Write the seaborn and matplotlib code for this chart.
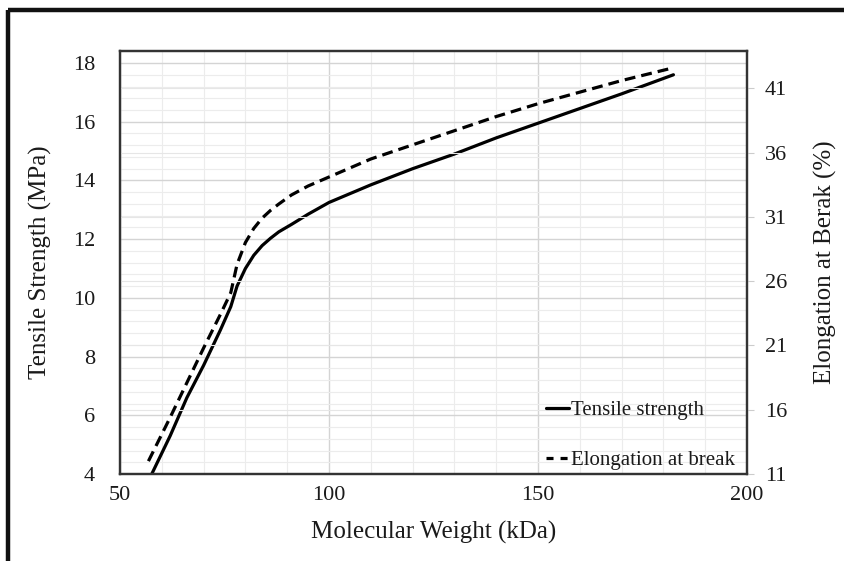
import numpy as np
import pandas as pd
import seaborn as sns
import matplotlib
matplotlib.use("Agg")
import matplotlib.pyplot as plt
from matplotlib.lines import Line2D
from matplotlib.ticker import MultipleLocator

# ---- data ----
mw_ts = [57.6, 62, 66, 70, 74, 76.5, 78, 80, 82, 84, 86, 88, 91, 95, 100, 110, 120, 130, 140, 150, 160, 170, 182.4]
tensile = [4.0, 5.3, 6.6, 7.7, 8.9, 9.7, 10.4, 11.0, 11.45, 11.78, 12.03, 12.25, 12.5, 12.85, 13.25, 13.85, 14.4, 14.9, 15.45, 15.95, 16.45, 16.95, 17.6]

mw_el = [56.8, 62, 66, 70, 74, 76.5, 78, 80, 82, 84, 86, 88, 91, 95, 100, 110, 120, 130, 140, 150, 160, 170, 181.2]
elongation = [12.0, 15.4, 18.1, 20.8, 23.4, 25.1, 27.3, 29.0, 30.1, 30.9, 31.5, 32.0, 32.7, 33.4, 34.1, 35.5, 36.6, 37.7, 38.8, 39.8, 40.7, 41.6, 42.5]

x_ticks = [50, 100, 150, 200]
left_ticks = [4, 6, 8, 10, 12, 14, 16, 18]
right_ticks = [11, 16, 21, 26, 31, 36, 41]

x_label = "Molecular Weight (kDa)"
left_label = "Tensile Strength (MPa)"
right_label = "Elongation at Berak (%)"
series_names = ["Tensile strength", "Elongation at break"]

df_ts = pd.DataFrame({"mw": mw_ts, "val": tensile})
df_el = pd.DataFrame({"mw": mw_el, "val": elongation})

sns.set_style("white")
plt.rcParams["font.family"] = ["Liberation Serif", "DejaVu Serif"]

fig = plt.figure(figsize=(8.44, 5.61), dpi=100)
ax = fig.add_axes([120/844, 1-474/561, (747-120)/844, (474-51)/561])
ax2 = ax.twinx()

dash = (0, (3.4, 1.9))
sns.lineplot(data=df_ts, x="mw", y="val", ax=ax, color="black", lw=2.3,
             label=series_names[0], legend=False)
sns.lineplot(data=df_el, x="mw", y="val", ax=ax2, color="black", lw=2.3,
             linestyle=dash, label=series_names[1], legend=False)

ax.set_xlim(50, 200)
ax.set_ylim(4, 18.41)
ax2.set_ylim(11, 43.9)

ax.set_xticks(x_ticks)
ax.set_yticks(left_ticks)
ax2.set_yticks(right_ticks)
ax.xaxis.set_minor_locator(MultipleLocator(10))
ax.yaxis.set_minor_locator(MultipleLocator(0.4))

ax.grid(True, which="major", color="#d4d4d4", lw=1.0)
ax.grid(True, which="minor", color="#ececec", lw=0.8)
ax2.grid(True, which="major", axis="y", color="#e6e6e6", lw=0.8)
ax.set_axisbelow(True)
ax2.set_axisbelow(True)

ax.tick_params(axis="both", which="both", length=0, labelsize=16, colors="#1a1a1a")
ax.tick_params(axis="x", pad=9)
ax.tick_params(axis="y", pad=18)
ax2.tick_params(axis="y", length=5, color="#cccccc", labelsize=16, labelcolor="#1a1a1a", pad=8)

ax.set_xlabel(x_label, fontsize=18, color="#1a1a1a", labelpad=11)
ax.set_ylabel(left_label, fontsize=18, color="#1a1a1a", labelpad=15)
ax2.set_ylabel(right_label, fontsize=18, color="#1a1a1a", labelpad=19)

for a in (ax, ax2):
    for s in a.spines.values():
        s.set_color("#333333")
        s.set_linewidth(1.6)

handles = [Line2D([], [], color="black", lw=2.3),
           Line2D([], [], color="black", lw=2.3, linestyle=(0, (2.2, 2.2)))]
leg = ax2.legend(handles, series_names, loc="lower right", frameon=False,
                 fontsize=15, handlelength=1.15, handletextpad=0.05,
                 labelspacing=1.45, bbox_to_anchor=(1.01, -0.035))
for t in leg.get_texts():
    t.set_color("#1a1a1a")

# outer frame lines (top and left)
fig.add_artist(Line2D([8/844, 1.0], [1-10/561, 1-10/561], color="#111111", lw=3.2,
                      transform=fig.transFigure, solid_capstyle="butt"))
fig.add_artist(Line2D([8/844, 8/844], [0.0, 1-10/561], color="#111111", lw=3.2,
                      transform=fig.transFigure, solid_capstyle="butt"))

fig.savefig("out.png", dpi=100)
